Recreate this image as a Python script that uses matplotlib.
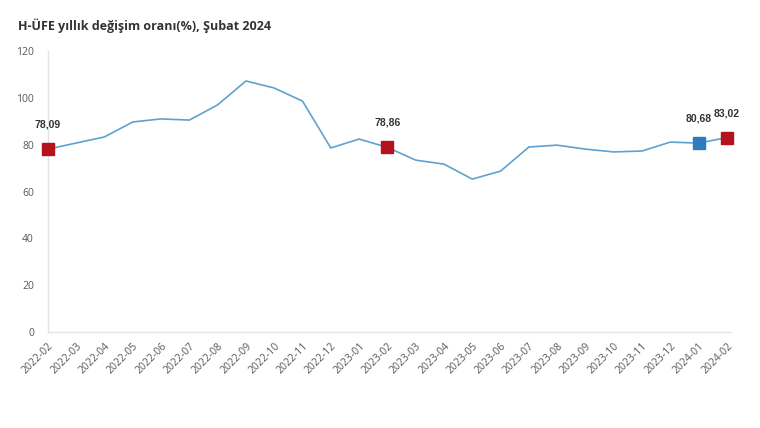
import matplotlib
matplotlib.use("Agg")
import matplotlib.pyplot as plt

months = ["2022-02", "2022-03", "2022-04", "2022-05", "2022-06", "2022-07", "2022-08",
          "2022-09", "2022-10", "2022-11", "2022-12", "2023-01", "2023-02", "2023-03",
          "2023-04", "2023-05", "2023-06", "2023-07", "2023-08", "2023-09", "2023-10",
          "2023-11", "2023-12", "2024-01", "2024-02"]
values = [78.09, 80.7, 83.3, 89.7, 91.0, 90.5, 97.0, 107.2, 104.2, 98.6, 78.6, 82.4,
          78.86, 73.4, 71.7, 65.3, 68.7, 79.0, 79.8, 78.1, 76.9, 77.3, 81.1, 80.68, 83.02]

red_idx = [0, 12, 24]
blue_idx = [23]

plt.rcParams['font.family'] = ['Open Sans', 'DejaVu Sans']

fig = plt.figure(figsize=(7.6, 4.28), dpi=100)
ax = fig.add_axes([0.063, 0.2243, 0.899, 0.6565])

x = list(range(len(months)))
ax.plot(x, values, color="#5fa2cf", lw=1.2, zorder=2)


def mark(i, color):
    ax.plot(x[i], values[i], "s", ms=9, color=color, zorder=3, clip_on=False)
    ax.annotate(f"{values[i]:.2f}".replace(".", ","), (x[i], values[i]), xytext=(0, 14),
                textcoords="offset points", ha="center", va="bottom",
                fontsize=7.5, fontweight="bold", color="#333333", family="Liberation Sans")


for i in red_idx:
    mark(i, "#b5121b")
for i in blue_idx:
    mark(i, "#2e7bbf")

ax.set_xlim(0, 24.15)
ax.set_ylim(0, 120)
ax.set_yticks(range(0, 121, 20))
ax.set_xticks(x)
ax.set_xticklabels(months, rotation=45, ha="right", rotation_mode="anchor")
ax.tick_params(axis="both", length=0, labelsize=7.5, labelcolor="#595959")
ax.tick_params(axis="y", pad=10)
ax.tick_params(axis="x", pad=6)

for s in ["top", "right"]:
    ax.spines[s].set_visible(False)
for s in ["left", "bottom"]:
    ax.spines[s].set_color("#e3e3e3")
    ax.spines[s].set_linewidth(1)

fig.text(0.024, 0.94, "H-ÜFE yıllık değişim oranı(%), Şubat 2024", fontsize=9,
         fontweight="bold", color="#333333", va="center")

fig.savefig("out.png", dpi=100, facecolor="white")
